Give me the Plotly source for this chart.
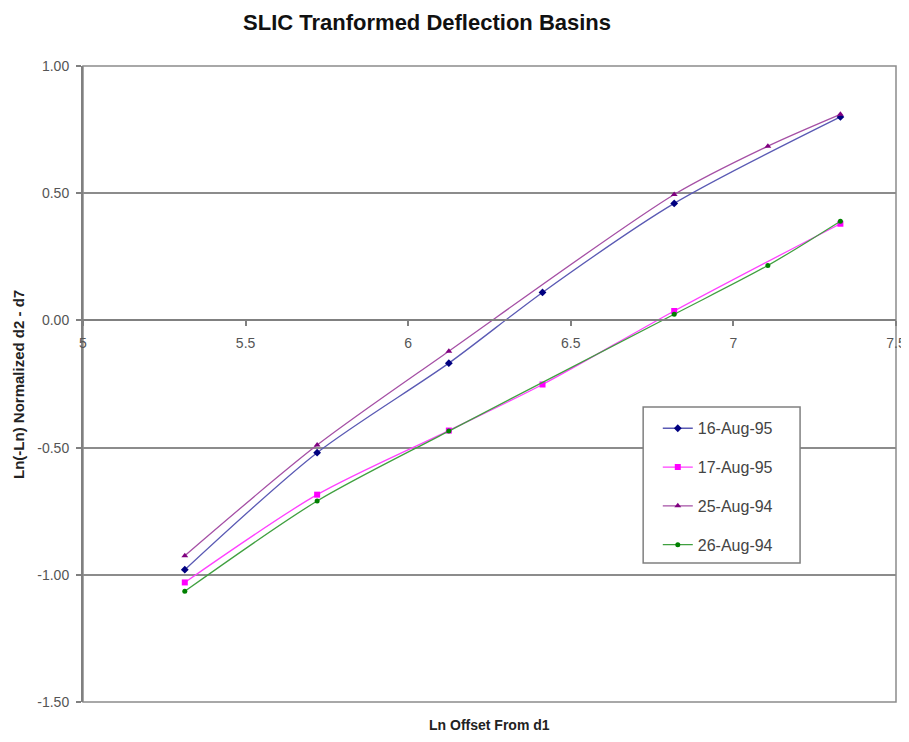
import plotly.graph_objects as go

# Ln offsets from d1 (sensor positions)
x_1995 = [5.313, 5.720, 6.125, 6.413, 6.818, 7.329]
x_1994 = [5.313, 5.720, 6.125, 6.818, 7.106, 7.329]

y_16aug95 = [-0.98, -0.52, -0.168, 0.11, 0.46, 0.80]
y_17aug95 = [-1.03, -0.685, -0.433, -0.252, 0.037, 0.38]
y_25aug94 = [-0.925, -0.49, -0.121, 0.495, 0.685, 0.81]
y_26aug94 = [-1.065, -0.71, -0.435, 0.024, 0.216, 0.39]

series_names = ["16-Aug-95", "17-Aug-95", "25-Aug-94", "26-Aug-94"]

y_ticks = [-1.5, -1.0, -0.5, 0.0, 0.5, 1.0]
y_tick_labels = ["-1.50", "-1.00", "-0.50", "0.00", "0.50", "1.00"]
x_ticks = [5, 5.5, 6, 6.5, 7, 7.5]
x_tick_labels = ["5", "5.5", "6", "6.5", "7", "7.5"]

FONT = "Liberation Sans, Arial, sans-serif"

specs = [
    (x_1995, y_16aug95, series_names[0], "#000080", "#5a5ab4", "diamond", 6),
    (x_1995, y_17aug95, series_names[1], "#ff00ff", "#ff40ff", "square", 6),
    (x_1994, y_25aug94, series_names[2], "#800080", "#a550a5", "triangle-up", 6),
    (x_1994, y_26aug94, series_names[3], "#008000", "#40a040", "circle", 5),
]

fig = go.Figure()
for xs, ys, name, mcol, lcol, sym, size in specs:
    fig.add_trace(go.Scatter(
        x=xs, y=ys, name=name, mode="lines+markers",
        line=dict(color=lcol, width=1.3, shape="spline", smoothing=0.8),
        marker=dict(color=mcol, symbol=sym, size=size),
        legendgroup=name,
    ))

fig.update_layout(
    width=909, height=742,
    margin=dict(l=75, r=21, t=58, b=48, autoexpand=False),
    paper_bgcolor="white", plot_bgcolor="white",
    font=dict(family=FONT, size=12, color="#333333"),
    title=dict(text="<b>SLIC Tranformed Deflection Basins</b>",
               x=0.461, xanchor="center", y=0.981, yanchor="middle",
               automargin=False,
               font=dict(family=FONT, size=22, color="#111111")),
    showlegend=True,
    legend=dict(x=0.707, xanchor="left", y=0.457, yanchor="top",
                bgcolor="rgba(0,0,0,0)", borderwidth=0,
                tracegroupgap=15, traceorder="grouped",
                font=dict(family=FONT, size=16, color="#444444")),
    xaxis=dict(range=[5, 7.5], tickvals=x_ticks, ticktext=x_tick_labels,
               showgrid=False, zeroline=False, automargin=False,
               showline=True, linecolor="#808080", linewidth=2,
               ticks="outside", ticklen=5, tickcolor="#808080", tickwidth=1.5,
               ticklabelstandoff=5,
               anchor="free", position=0.6,
               tickfont=dict(family=FONT, size=14, color="#555555")),
    yaxis=dict(range=[-1.5, 1.0], tickvals=y_ticks, ticktext=y_tick_labels,
               showgrid=True, gridcolor="#8c8c8c", gridwidth=1.5,
               zeroline=False, automargin=False,
               showline=True, linecolor="#808080", linewidth=2,
               ticks="outside", ticklen=5, tickcolor="#808080", tickwidth=1.5,
               ticklabelstandoff=4,
               tickfont=dict(family=FONT, size=14, color="#555555")),
    shapes=[
        dict(type="rect", xref="paper", yref="paper", x0=0, x1=1, y0=0, y1=1,
             line=dict(color="#8c8c8c", width=1.5), layer="below"),
        dict(type="rect", xref="paper", yref="paper",
             x0=0.689, x1=0.882, y0=0.2186, y1=0.4638,
             fillcolor="white", line=dict(color="#808080", width=1.5), layer="above"),
    ],
    annotations=[
        dict(text="<b>Ln Offset From d1</b>", xref="paper", yref="paper",
             x=0.5, y=-0.036, xanchor="center", yanchor="middle", showarrow=False,
             font=dict(family=FONT, size=14, color="#222222")),
        dict(text="<b>Ln(-Ln) Normalized d2 - d7</b>", xref="paper", yref="paper",
             x=-0.08, y=0.5, xanchor="center", yanchor="middle", showarrow=False,
             textangle=-90,
             font=dict(family=FONT, size=15, color="#222222")),
    ],
)

fig.write_html("out.html")
